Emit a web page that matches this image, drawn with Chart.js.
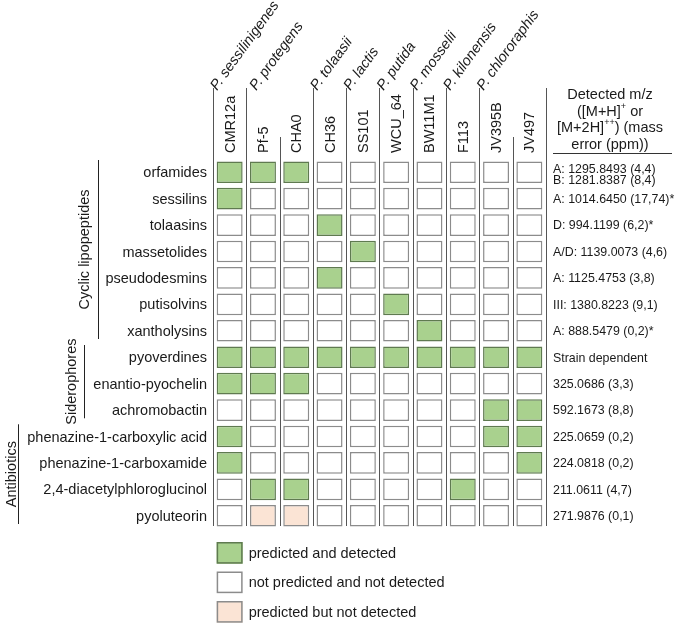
<!DOCTYPE html>
<html lang="en">
<head>
  <meta charset="UTF-8" />
  <title>Predicted and detected metabolites</title>
  <script src="https://cdn.jsdelivr.net/npm/chart.js"></script>
  <style>
    html, body {
      margin: 0;
      padding: 0;
      background: #ffffff;
      overflow: hidden;
    }
    .chart-box {
      position: relative;
      width: 675px;
      height: 624px;
    }
  </style>
</head>
<body>
  <div class="chart-box">
    <canvas id="metaChart"></canvas>
  </div>

  <script>
    // strains (columns) and the species they belong to
    const strains = ['CMR12a', 'Pf-5', 'CHA0', 'CH36', 'SS101', 'WCU_64', 'BW11M1', 'F113', 'JV395B', 'JV497'];
    const species = ['P. sessilinigenes', 'P. protegens', 'P. tolaasii', 'P. lactis', 'P. putida', 'P. mosselii', 'P. kilonensis', 'P. chlororaphis'];
    const speciesFirstStrain = [0, 1, 3, 4, 5, 6, 7, 8];

    // metabolites (rows)
    const compounds = [
      'orfamides', 'sessilins', 'tolaasins', 'massetolides', 'pseudodesmins', 'putisolvins', 'xantholysins',
      'pyoverdines', 'enantio-pyochelin', 'achromobactin',
      'phenazine-1-carboxylic acid', 'phenazine-1-carboxamide', '2,4-diacetylphloroglucinol', 'pyoluteorin'
    ];
    const groups = ['Cyclic lipopeptides', 'Siderophores', 'Antibiotics'];
    const groupFirstRow = [0, 7, 10];
    const groupLastRow = [6, 9, 13];

    const mzLabels = [
      ['A: 1295.8493 (4,4)', 'B: 1281.8387 (8,4)'],
      ['A: 1014.6450 (17,74)*'],
      ['D: 994.1199 (6,2)*'],
      ['A/D: 1139.0073 (4,6)'],
      ['A: 1125.4753 (3,8)'],
      ['III: 1380.8223 (9,1)'],
      ['A: 888.5479 (0,2)*'],
      ['Strain dependent'],
      ['325.0686 (3,3)'],
      ['592.1673 (8,8)'],
      ['225.0659 (0,2)'],
      ['224.0818 (0,2)'],
      ['211.0611 (4,7)'],
      ['271.9876 (0,1)']
    ];

    // 0 = not predicted / not detected, 1 = predicted and detected, 2 = predicted but not detected
    const status = [
      [1, 1, 1, 0, 0, 0, 0, 0, 0, 0],
      [1, 0, 0, 0, 0, 0, 0, 0, 0, 0],
      [0, 0, 0, 1, 0, 0, 0, 0, 0, 0],
      [0, 0, 0, 0, 1, 0, 0, 0, 0, 0],
      [0, 0, 0, 1, 0, 0, 0, 0, 0, 0],
      [0, 0, 0, 0, 0, 1, 0, 0, 0, 0],
      [0, 0, 0, 0, 0, 0, 1, 0, 0, 0],
      [1, 1, 1, 1, 1, 1, 1, 1, 1, 1],
      [1, 1, 1, 0, 0, 0, 0, 0, 0, 0],
      [0, 0, 0, 0, 0, 0, 0, 0, 1, 1],
      [1, 0, 0, 0, 0, 0, 0, 0, 1, 1],
      [1, 0, 0, 0, 0, 0, 0, 0, 0, 1],
      [0, 1, 1, 0, 0, 0, 0, 1, 0, 0],
      [0, 2, 2, 0, 0, 0, 0, 0, 0, 0]
    ];
    const statusNames = ['not predicted and not detected', 'predicted and detected', 'predicted but not detected'];
    const legendOrder = [1, 0, 2];

    const fills = ['#ffffff', '#a9d18e', '#fbe4d5'];
    const borders = ['#8c8c8c', '#5f7a50', '#8c8c8c'];
    const FONT = '"Liberation Sans", Arial, sans-serif';
    const INK = '#1a1a1a';

    // draw one text line made of normal and superscript pieces, centred on x
    function drawRichLine(ctx, parts, cx, y) {
      const widths = parts.map(p => {
        ctx.font = p.sup ? '9px ' + FONT : '14.5px ' + FONT;
        return ctx.measureText(p.t).width;
      });
      let x = cx - widths.reduce((a, b) => a + b, 0) / 2;
      ctx.textAlign = 'left';
      parts.forEach((p, i) => {
        ctx.font = p.sup ? '9px ' + FONT : '14.5px ' + FONT;
        ctx.fillText(p.t, x, p.sup ? y - 5 : y);
        x += widths[i];
      });
    }

    const annotations = {
      id: 'annotations',
      afterDraw(chart) {
        const ctx = chart.ctx;
        const area = chart.chartArea;
        const xs = chart.scales.x;
        const ys = chart.scales.y;
        const pitch = xs.getPixelForValue(1) - xs.getPixelForValue(0);
        const rowPitch = ys.getPixelForValue(1) - ys.getPixelForValue(0);
        const cell = chart.getDatasetMeta(0).data[0];
        const boundary = k => xs.getPixelForValue(0) - pitch / 2 + k * pitch;

        ctx.save();
        ctx.fillStyle = INK;

        // column separators
        ctx.strokeStyle = '#555555';
        ctx.lineWidth = 1;
        for (let k = 0; k <= strains.length; k++) {
          const full = k === strains.length || speciesFirstStrain.includes(k);
          const x = Math.round(boundary(k)) + 0.5;
          ctx.beginPath();
          ctx.moveTo(x, full ? 88 : 137);
          ctx.lineTo(x, area.bottom - 3);
          ctx.stroke();
        }

        // strain names
        ctx.font = '14.5px ' + FONT;
        ctx.textAlign = 'left';
        ctx.textBaseline = 'middle';
        strains.forEach((s, i) => {
          ctx.save();
          ctx.translate(xs.getPixelForValue(i) + 1, 153);
          ctx.rotate(-Math.PI / 2);
          ctx.fillText(s, 0, 0);
          ctx.restore();
        });

        // species names, slanted
        ctx.font = 'italic 14.5px ' + FONT;
        ctx.textBaseline = 'alphabetic';
        species.forEach((s, i) => {
          const shift = i === 1 ? 10 : 4;
          ctx.save();
          ctx.translate(boundary(speciesFirstStrain[i]) + shift, 91);
          ctx.rotate(-54 * Math.PI / 180);
          ctx.fillText(s, 0, 0);
          ctx.restore();
        });

        // compound names
        ctx.font = '14.5px ' + FONT;
        ctx.textAlign = 'right';
        ctx.textBaseline = 'middle';
        compounds.forEach((c, r) => {
          ctx.fillText(c, area.left - 6, ys.getPixelForValue(r) + 1);
        });

        // group labels with their brackets
        const groupTextX = [85, 72, 12];
        const groupLineX = [98, 84, 18];
        ctx.strokeStyle = '#222222';
        ctx.textAlign = 'center';
        groups.forEach((g, i) => {
          const top = ys.getPixelForValue(groupFirstRow[i]) - rowPitch / 2 + 1;
          const bottom = ys.getPixelForValue(groupLastRow[i]) + rowPitch / 2 - 5;
          ctx.beginPath();
          ctx.moveTo(groupLineX[i] + 0.5, top);
          ctx.lineTo(groupLineX[i] + 0.5, bottom);
          ctx.stroke();
          ctx.save();
          ctx.translate(groupTextX[i], (top + bottom) / 2);
          ctx.rotate(-Math.PI / 2);
          ctx.fillText(g, 0, 0);
          ctx.restore();
        });

        // right column header
        const hx = area.right + 64;
        ctx.textBaseline = 'middle';
        drawRichLine(ctx, [{ t: 'Detected m/z' }], hx, 95);
        drawRichLine(ctx, [{ t: '([M+H]' }, { t: '+', sup: true }, { t: ' or' }], hx, 112);
        drawRichLine(ctx, [{ t: '[M+2H]' }, { t: '++', sup: true }, { t: ') (mass' }], hx, 128);
        drawRichLine(ctx, [{ t: 'error (ppm))' }], hx, 145);
        ctx.strokeStyle = '#333333';
        ctx.beginPath();
        ctx.moveTo(area.right + 7, 153.5);
        ctx.lineTo(672, 153.5);
        ctx.stroke();

        // m/z values
        ctx.font = '12.4px ' + FONT;
        ctx.textAlign = 'left';
        mzLabels.forEach((lines, r) => {
          const cy = ys.getPixelForValue(r) + 1;
          if (lines.length === 1) {
            ctx.fillText(lines[0], area.right + 7, cy);
          } else {
            ctx.fillText(lines[0], area.right + 7, cy - 4);
            ctx.fillText(lines[1], area.right + 7, cy + 7);
          }
        });

        // legend
        const lx = cell.x - cell.width / 2;
        const lh = Math.abs(cell.height);
        ctx.font = '14.5px ' + FONT;
        legendOrder.forEach((s, i) => {
          const top = area.bottom + 13 + i * 29.5;
          ctx.fillStyle = fills[s];
          ctx.fillRect(lx, top, cell.width, lh);
          ctx.strokeStyle = borders[s];
          ctx.lineWidth = 1.5;
          ctx.strokeRect(lx + 0.75, top + 0.75, cell.width - 1.5, lh - 1.5);
          ctx.fillStyle = INK;
          ctx.fillText(statusNames[s], lx + cell.width + 6, top + lh / 2 + 1);
        });

        ctx.restore();
      }
    };

    const ctx = document.getElementById('metaChart').getContext('2d');
    new Chart(ctx, {
      type: 'bar',
      data: {
        labels: strains,
        datasets: compounds.map((c, r) => ({
          label: c,
          data: strains.map(() => [r - 0.41, r + 0.41]),
          backgroundColor: status[r].map(s => fills[s]),
          borderColor: status[r].map(s => borders[s]),
          borderWidth: 1.5,
          borderSkipped: false,
          grouped: false,
          categoryPercentage: 1,
          barPercentage: 0.78,
        })),
      },
      options: {
        responsive: true,
        maintainAspectRatio: false,
        animation: false,
        layout: {
          padding: { left: 213, right: 129, top: 159, bottom: 95 },
        },
        plugins: {
          legend: { display: false },
          tooltip: { enabled: false },
        },
        scales: {
          x: { type: 'category', display: false, offset: true },
          y: { type: 'linear', display: false, reverse: true, min: -0.5, max: 13.5 },
        },
      },
      plugins: [annotations],
    });
  </script>
</body>
</html>
